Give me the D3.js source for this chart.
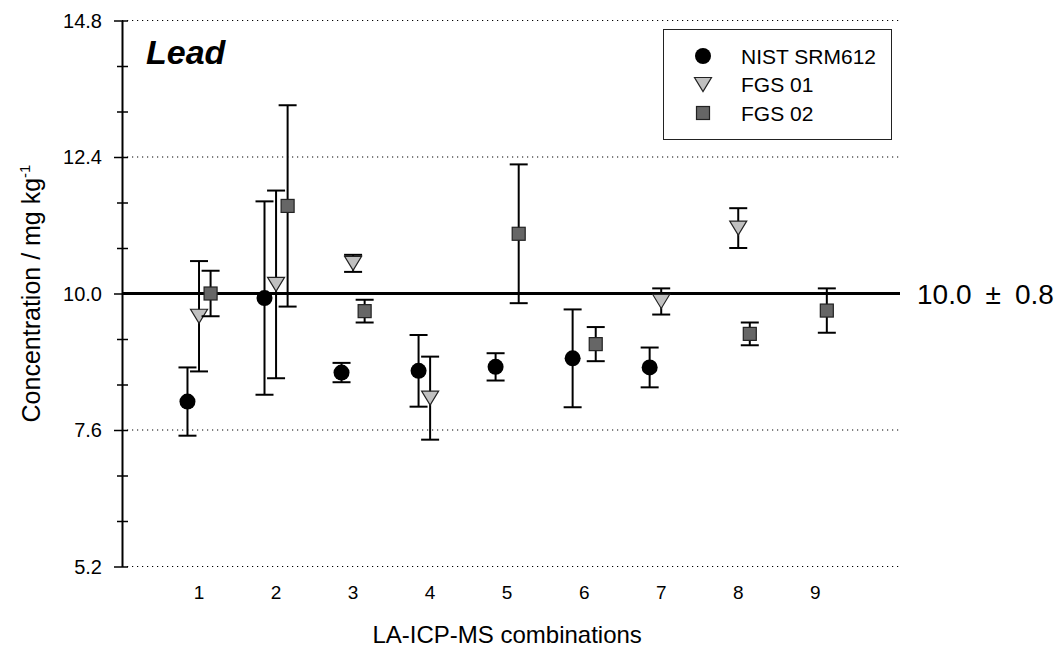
<!DOCTYPE html>
<html>
<head>
<meta charset="utf-8">
<script src="https://cdn.jsdelivr.net/npm/d3@7"></script>
<style>
  body { margin: 0; background: #fff; }
  text { font-family: "Liberation Sans", Arial, sans-serif; }
</style>
</head>
<body>
<div id="chart-container"></div>
<script>
// Lead concentrations per LA-ICP-MS combination

const combos = [1, 2, 3, 4, 5, 6, 7, 8, 9]
const nistMean  = [8.10, 9.92, 8.61, 8.64, 8.71, 8.86, 8.70, null, null]
const nistErr   = [0.60, 1.70, 0.17, 0.63, 0.24, 0.86, 0.35, null, null]
const fgs01Mean = [9.60, 10.16, 10.53, 8.16, null, null, 9.86, 11.15, null]
const fgs01Err  = [0.97, 1.65, 0.15, 0.73, null, null, 0.23, 0.35, null]
const fgs02Mean = [10.0, 11.54, 9.69, null, 11.05, 9.11, null, 9.29, 9.70]
const fgs02Err  = [0.40, 1.77, 0.20, null, 1.22, 0.30, null, 0.20, 0.39]
const yTicks = [5.2, 7.6, 10.0, 12.4, 14.8]
const refValue = 10.0, refUnc = 0.8

const seriesNames = ['NIST SRM612', 'FGS 01', 'FGS 02']

let width = 1062, height = 648

let svg = d3.select('#chart-container')
            .append('svg')
            .attr('width', width)
            .attr('height', height)

let x = d3.scaleLinear().domain([0, 10.1]).range([122, 900])
let y = d3.scaleLinear().domain([5.2, 14.8]).range([566.5, 20.5])

// dotted grid lines (not at the reference value)
svg.append('g')
    .selectAll('line')
    .data(yTicks.filter(t => t !== refValue))
    .join('line')
    .attr('x1', x(0)).attr('x2', x(10.1))
    .attr('y1', d => y(d)).attr('y2', d => y(d))
    .attr('stroke', '#000')
    .attr('stroke-width', 1.2)
    .attr('stroke-dasharray', '1.2,3.8')

// reference line
svg.append('line')
    .attr('x1', x(0)).attr('x2', x(10.1))
    .attr('y1', y(refValue)).attr('y2', y(refValue))
    .attr('stroke', '#000')
    .attr('stroke-width', 3)

let refLab = svg.append('text')
    .attr('x', 917)
    .attr('y', y(refValue) + 10)
    .style('font-size', '28px')
refLab.append('tspan').text(refValue.toFixed(1))
refLab.append('tspan').attr('dx', 14).text('\u00B1')
refLab.append('tspan').attr('dx', 14).text(refUnc)

// y axis: line + ticks from d3, labels drawn separately
let isMajor = d => yTicks.some(t => Math.abs(t - d) < 1e-6)
let yAxis = d3.axisLeft(y)
    .tickValues(d3.range(5.2, 14.81, 0.8))
    .tickSize(0)
    .tickFormat('')

let yg = svg.append('g')
    .attr('transform', `translate(${x(0)},0)`)
    .call(yAxis)
yg.select('.domain').attr('stroke', '#000').attr('stroke-width', 2)
yg.selectAll('.tick text').remove()
yg.selectAll('.tick').append('line')
    .attr('x1', d => isMajor(d) ? -8 : -5)
    .attr('x2', 6)
    .attr('stroke', '#000')
    .attr('stroke-width', 1.5)

svg.append('g')
    .selectAll('text')
    .data(yTicks)
    .join('text')
    .attr('x', x(0) - 20)
    .attr('y', d => y(d) + 7)
    .attr('text-anchor', 'end')
    .style('font-size', '20px')
    .text(d => d3.format('.1f')(d))

// x tick labels only
svg.append('g')
    .selectAll('text')
    .data(combos)
    .join('text')
    .attr('x', d => x(d))
    .attr('y', y(5.2) + 32)
    .attr('text-anchor', 'middle')
    .style('font-size', '19px')
    .text(d => d)

svg.append('text')
    .attr('x', x(5))
    .attr('y', 643)
    .attr('text-anchor', 'middle')
    .style('font-size', '24px')
    .text('LA-ICP-MS combinations')

let yLab = svg.append('text')
    .attr('transform', `translate(40,${y(10)}) rotate(-90)`)
    .attr('text-anchor', 'middle')
    .style('font-size', '25px')
yLab.append('tspan').text('Concentration / mg kg')
yLab.append('tspan').style('font-size', '15px').attr('dy', -10).text('-1')

svg.append('text')
    .attr('x', 146)
    .attr('y', 64)
    .style('font-size', '34px')
    .attr('font-weight', 'bold')
    .attr('font-style', 'italic')
    .text('Lead')

// series
let triangle = 'M-8.5,-7L8.5,-7L0,7Z'
let series = [
    {name: seriesNames[0], mean: nistMean, err: nistErr, off: -0.15, shape: 'circle'},
    {name: seriesNames[1], mean: fgs01Mean, err: fgs01Err, off: 0, shape: 'tri'},
    {name: seriesNames[2], mean: fgs02Mean, err: fgs02Err, off: 0.15, shape: 'square'}
]

function drawMarker(g, shape) {
    if (shape === 'circle') {
        g.append('circle').attr('r', 8).attr('fill', '#000')
    } else if (shape === 'tri') {
        g.append('path').attr('d', triangle)
            .attr('fill', '#c0c0c0').attr('stroke', '#222').attr('stroke-width', 1.2)
    } else {
        g.append('rect').attr('x', -6.5).attr('y', -6.5).attr('width', 13).attr('height', 13)
            .attr('fill', '#666').attr('stroke', '#222').attr('stroke-width', 1.2)
    }
}

series.forEach(s => {
    let pts = combos.map((c, i) => ({c: c, m: s.mean[i], e: s.err[i]})).filter(d => d.m != null)
    let g = svg.append('g')
    let bars = g.selectAll('g.bar').data(pts).join('g')
        .attr('stroke', '#000').attr('stroke-width', 2)
    bars.append('line')
        .attr('x1', d => x(d.c + s.off)).attr('x2', d => x(d.c + s.off))
        .attr('y1', d => y(d.m - d.e)).attr('y2', d => y(d.m + d.e))
    bars.append('line')
        .attr('x1', d => x(d.c + s.off) - 9).attr('x2', d => x(d.c + s.off) + 9)
        .attr('y1', d => y(d.m + d.e)).attr('y2', d => y(d.m + d.e))
    bars.append('line')
        .attr('x1', d => x(d.c + s.off) - 9).attr('x2', d => x(d.c + s.off) + 9)
        .attr('y1', d => y(d.m - d.e)).attr('y2', d => y(d.m - d.e))
    g.selectAll('g.mk').data(pts).join('g')
        .attr('transform', d => `translate(${x(d.c + s.off)},${y(d.m)})`)
        .each(function() { drawMarker(d3.select(this), s.shape) })
})

// legend
let legend = svg.append('g')
legend.append('rect')
    .attr('x', 663.5).attr('y', 29.5).attr('width', 228).attr('height', 110)
    .attr('fill', '#fff').attr('stroke', '#222').attr('stroke-width', 1)
let legRows = legend.selectAll('g.row').data(series).join('g')
    .attr('transform', (d, i) => `translate(703,${56 + i * 28.5})`)
legRows.each(function(d) { drawMarker(d3.select(this), d.shape) })
legRows.append('text')
    .attr('x', 38)
    .attr('y', 7.5)
    .style('font-size', '21px')
    .text(d => d.name)
</script>
</body>
</html>
